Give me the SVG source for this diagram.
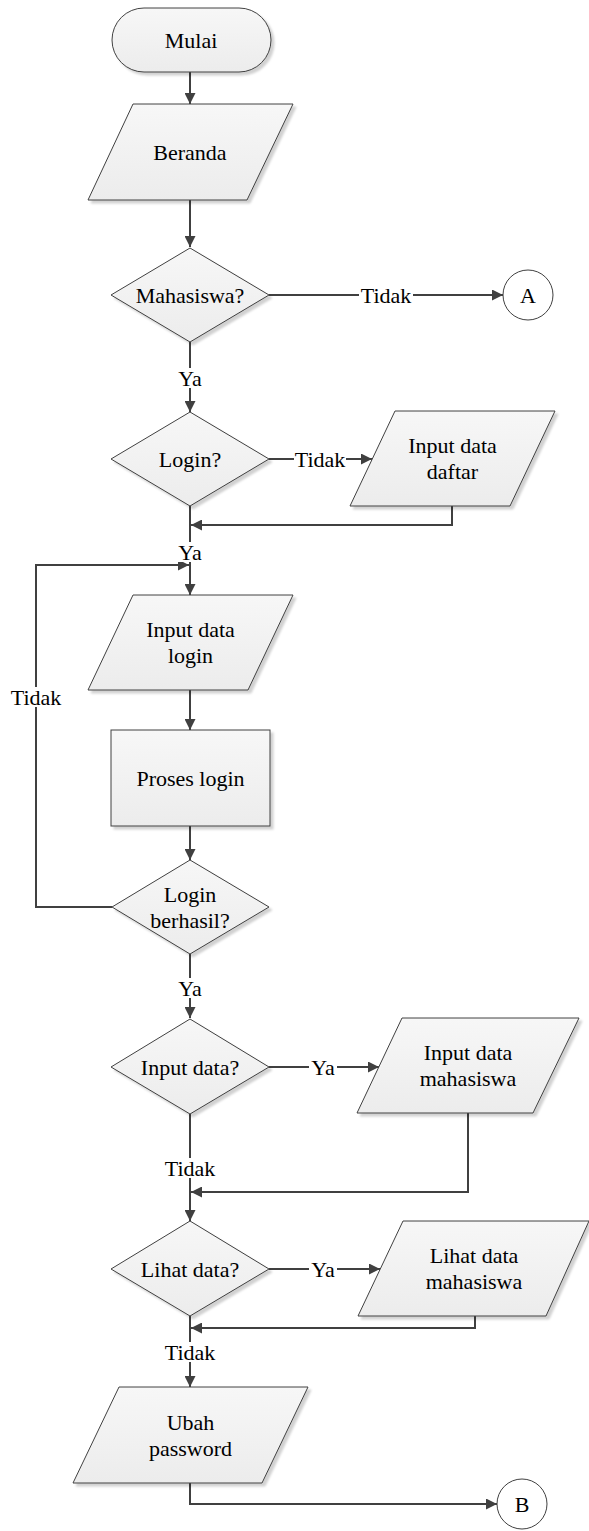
<svg xmlns="http://www.w3.org/2000/svg" width="589" height="1531" viewBox="0 0 589 1531">
<style>
.n{fill:url(#g);stroke:#404040;stroke-width:1;filter:url(#sh)}
.c{fill:#fff;stroke:#404040;stroke-width:1}
.t{font-family:"Liberation Serif","Times New Roman",serif;font-size:22px;fill:#000;text-anchor:middle}
.e{fill:none;stroke:#404040;stroke-width:2}
.lb{fill:#fff;stroke:none}
</style>
<defs>
<linearGradient id="g" x1="0" y1="0" x2="0" y2="1">
<stop offset="0" stop-color="#f7f7f7"/>
<stop offset="1" stop-color="#ececec"/>
</linearGradient>
<filter id="sh" x="-10%" y="-10%" width="130%" height="130%">
<feDropShadow dx="3" dy="3" stdDeviation="1.2" flood-color="#000" flood-opacity="0.18"/>
</filter>
<marker id="ar" viewBox="0 0 10 10" refX="10" refY="5" markerWidth="5.5" markerHeight="5.5" orient="auto" markerUnits="strokeWidth">
<path d="M0,0 L10,5 L0,10 z" fill="#404040"/>
</marker>
</defs>
<rect width="589" height="1531" fill="#fff"/>

<g id="connectors">
<path class="e" d="M190 72 V104" marker-end="url(#ar)"/>
<path class="e" d="M190 200 V247" marker-end="url(#ar)"/>
<path class="e" d="M269 295 H503" marker-end="url(#ar)"/>
<path class="e" d="M190 342 V412" marker-end="url(#ar)"/>
<path class="e" d="M269 459 H372" marker-end="url(#ar)"/>
<path class="e" d="M452 506 V525 H191" marker-end="url(#ar)"/>
<path class="e" d="M190 506 V595" marker-end="url(#ar)"/>
<path class="e" d="M112 907 H36 V565 H189" marker-end="url(#ar)"/>
<path class="e" d="M190 690 V730" marker-end="url(#ar)"/>
<path class="e" d="M190 826 V860" marker-end="url(#ar)"/>
<path class="e" d="M190 954 V1018" marker-end="url(#ar)"/>
<path class="e" d="M269 1067 H379" marker-end="url(#ar)"/>
<path class="e" d="M468 1113 V1192 H191" marker-end="url(#ar)"/>
<path class="e" d="M190 1114 V1221" marker-end="url(#ar)"/>
<path class="e" d="M269 1269 H380" marker-end="url(#ar)"/>
<path class="e" d="M475 1316 V1328 H191" marker-end="url(#ar)"/>
<path class="e" d="M190 1316 V1387" marker-end="url(#ar)"/>
<path class="e" d="M190 1483 V1504 H497" marker-end="url(#ar)"/>
<g id="labels">
<rect class="lb" x="359" y="285" width="54" height="20"/>
<text class="t" x="386" y="302.5">Tidak</text>
<rect class="lb" x="176" y="368" width="28" height="20"/>
<text class="t" x="190" y="385.5">Ya</text>
<rect class="lb" x="294" y="449" width="52" height="20"/>
<text class="t" x="320" y="466.5">Tidak</text>
<rect class="lb" x="176" y="542" width="28" height="20"/>
<text class="t" x="190" y="559.5">Ya</text>
<rect class="lb" x="9" y="687" width="54" height="20"/>
<text class="t" x="36" y="704.5">Tidak</text>
<rect class="lb" x="176" y="978" width="28" height="20"/>
<text class="t" x="190" y="995.5">Ya</text>
<rect class="lb" x="309" y="1057" width="28" height="20"/>
<text class="t" x="323" y="1074.5">Ya</text>
<rect class="lb" x="163" y="1158" width="54" height="20"/>
<text class="t" x="190" y="1175.5">Tidak</text>
<rect class="lb" x="309" y="1259" width="28" height="20"/>
<text class="t" x="323" y="1276.5">Ya</text>
<rect class="lb" x="163" y="1342" width="54" height="20"/>
<text class="t" x="190" y="1359.5">Tidak</text>
</g>
</g>

<g id="mulai">
<rect class="n" x="112" y="8" width="159" height="64" rx="32" ry="32"/>
<text class="t" x="191" y="47.5">Mulai</text>
</g>
<g id="beranda">
<polygon class="n" points="133,104 293,104 247,200 88,200"/>
<text class="t" x="190" y="159.5">Beranda</text>
</g>
<g id="mahasiswa">
<polygon class="n" points="190,248 269,295 190,342 111,295"/>
<text class="t" x="190" y="302.5">Mahasiswa?</text>
</g>
<g id="connector-a">
<circle class="c" cx="528" cy="295" r="25"/>
<text class="t" x="528" y="302.5">A</text>
</g>
<g id="login">
<polygon class="n" points="190,412 269,459 190,506 111,459"/>
<text class="t" x="190" y="466.5">Login?</text>
</g>
<g id="input-data-daftar">
<polygon class="n" points="395,411 555,411 510,506 350,506"/>
<text class="t" x="452.5" y="453">Input data</text>
<text class="t" x="452.5" y="479">daftar</text>
</g>
<g id="input-data-login">
<polygon class="n" points="133,595 293,595 248,690 88,690"/>
<text class="t" x="190.5" y="637">Input data</text>
<text class="t" x="190.5" y="663">login</text>
</g>
<g id="proses-login">
<rect class="n" x="111" y="730" width="159" height="96"/>
<text class="t" x="190.5" y="785.5">Proses login</text>
</g>
<g id="login-berhasil">
<polygon class="n" points="190,860 269,907 190,954 112,907"/>
<text class="t" x="190" y="901.5">Login</text>
<text class="t" x="190" y="927.5">berhasil?</text>
</g>
<g id="input-data">
<polygon class="n" points="190,1019 269,1067 190,1114 111,1067"/>
<text class="t" x="190" y="1074.5">Input data?</text>
</g>
<g id="input-data-mahasiswa">
<polygon class="n" points="402,1018 579,1018 533,1113 357,1113"/>
<text class="t" x="468" y="1060">Input data</text>
<text class="t" x="468" y="1086">mahasiswa</text>
</g>
<g id="lihat-data">
<polygon class="n" points="190,1221 269,1269 190,1316 111,1269"/>
<text class="t" x="190" y="1276.5">Lihat data?</text>
</g>
<g id="lihat-data-mahasiswa">
<polygon class="n" points="403,1221 589,1221 546,1316 358,1316"/>
<text class="t" x="474" y="1263">Lihat data</text>
<text class="t" x="474" y="1289">mahasiswa</text>
</g>
<g id="ubah-password">
<polygon class="n" points="119,1387 308,1387 262,1483 73,1483"/>
<text class="t" x="190.5" y="1429.5">Ubah</text>
<text class="t" x="190.5" y="1455.5">password</text>
</g>
<g id="connector-b">
<circle class="c" cx="522" cy="1504" r="25"/>
<text class="t" x="522" y="1511.5">B</text>
</g>
</svg>
